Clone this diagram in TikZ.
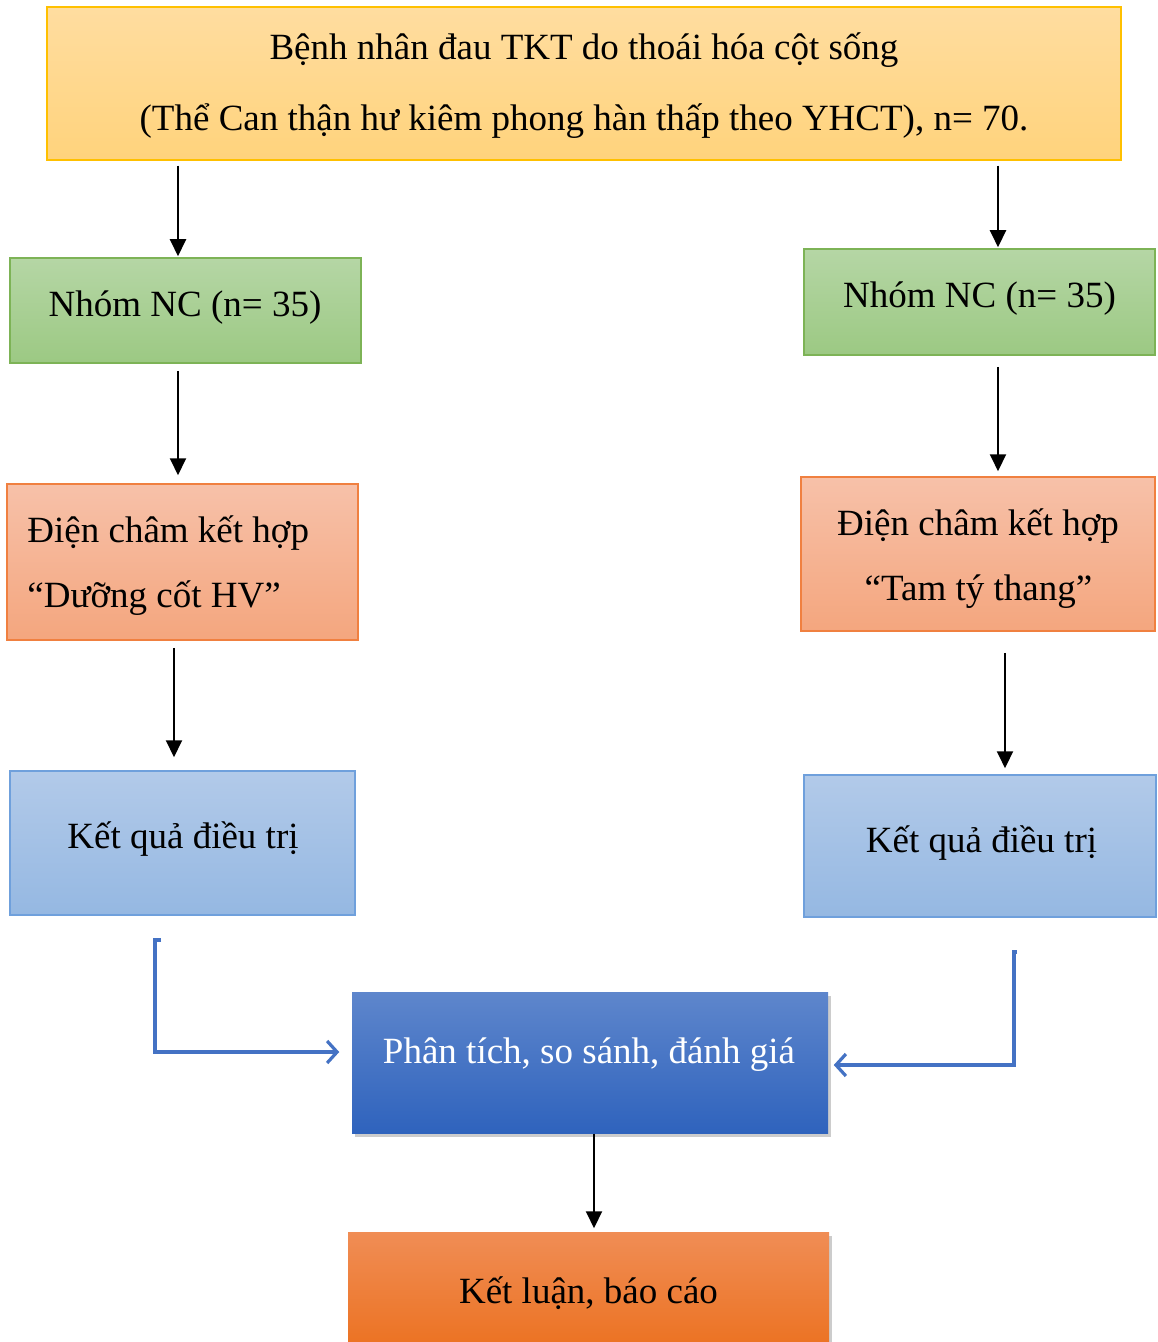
\documentclass[tikz,border=0pt]{standalone}
\usepackage{fontspec}
\setmainfont{Liberation Serif}
\usetikzlibrary{arrows.meta,shadows}
\definecolor{tbTop}{HTML}{FFDDA0}
\definecolor{tbBot}{HTML}{FFD37C}
\definecolor{tbLine}{HTML}{FFC000}
\definecolor{grTop}{HTML}{B5D6A5}
\definecolor{grBot}{HTML}{9CC983}
\definecolor{grLine}{HTML}{7DB356}
\definecolor{saTop}{HTML}{F7C1A9}
\definecolor{saBot}{HTML}{F4A67E}
\definecolor{saLine}{HTML}{F08040}
\definecolor{lbTop}{HTML}{B2CAE9}
\definecolor{lbBot}{HTML}{95B8E2}
\definecolor{lbLine}{HTML}{6FA0DC}
\definecolor{dbTop}{HTML}{5E86CC}
\definecolor{dbBot}{HTML}{2F63BD}
\definecolor{orTop}{HTML}{F08D55}
\definecolor{orBot}{HTML}{EB6E1A}
\definecolor{conn}{HTML}{4472C4}
\tikzset{
  box/.style={rectangle, inner sep=0pt, line width=0.75pt},
  topbox/.style={box, draw=tbLine, top color=tbTop, bottom color=tbBot},
  greenbox/.style={box, draw=grLine, top color=grTop, bottom color=grBot},
  salmonbox/.style={box, draw=saLine, top color=saTop, bottom color=saBot},
  lightbox/.style={box, draw=lbLine, top color=lbTop, bottom color=lbBot},
  darkbox/.style={box, top color=dbTop, bottom color=dbBot,
     drop shadow={opacity=0.4, shadow xshift=1.5pt, shadow yshift=-2pt}},
  orangebox/.style={box, top color=orTop, bottom color=orBot,
     drop shadow={opacity=0.4, shadow xshift=1.5pt, shadow yshift=-2pt}},
  txt/.style={anchor=base, inner sep=0pt, font=\fontsize{18.5}{22}\selectfont},
  arr/.style={line width=1pt, -{Triangle[length=8.5pt,width=8pt]}},
  bluearr/.style={draw=conn, line width=1.6pt, line join=miter,
     -{Straight Barb[length=5pt,width=11pt,line width=1.6pt]}}
}
\begin{document}
\begin{tikzpicture}[x=0.5pt,y=-0.5pt]
\useasboundingbox (0,0) rectangle (1157,1342);
\fill[white] (0,0) rectangle (1157,1342);
% boxes
\node[topbox, minimum width=537pt, minimum height=76.5pt] (top) at (584,83.5) {};
\node[greenbox, minimum width=175.5pt, minimum height=52.5pt] (l1) at (185.5,310.5) {};
\node[greenbox, minimum width=175.5pt, minimum height=53pt] (r1) at (979.5,302) {};
\node[salmonbox, minimum width=175.5pt, minimum height=78pt] (l2) at (182.5,562) {};
\node[salmonbox, minimum width=177pt, minimum height=77pt] (r2) at (978,554) {};
\node[lightbox, minimum width=172.5pt, minimum height=72pt] (l3) at (182.5,843) {};
\node[lightbox, minimum width=176pt, minimum height=71pt] (r3) at (980,846) {};
\node[darkbox, minimum width=238pt, minimum height=70.5pt] (mid) at (590,1062.5) {};
\node[orangebox, minimum width=240.5pt, minimum height=66.5pt] (bot) at (588.5,1298.5) {};
% texts
\node[txt] (t1) at (584,60) {Bệnh nhân đau TKT do thoái hóa cột sống};
\node[txt] (t2) at (584,131) {(Thể Can thận hư kiêm phong hàn thấp theo YHCT), n= 70.};
\node[txt] (tl1) at (185,316) {Nhóm NC (n= 35)};
\node[txt] (tr1) at (979.5,307) {Nhóm NC (n= 35)};
\node[txt, anchor=base west] (tl2a) at (27,542) {Điện châm kết hợp};
\node[txt, anchor=base west] (tl2b) at (27,607) {“Dưỡng cốt HV”};
\node[txt] (tr2a) at (978,535) {Điện châm kết hợp};
\node[txt] (tr2b) at (978.5,600) {“Tam tý thang”};
\node[txt] (tl3) at (183,848) {Kết quả điều trị};
\node[txt] (tr3) at (981.5,852) {Kết quả điều trị};
\node[txt, text=white] (tm) at (589,1063) {Phân tích, so sánh, đánh giá};
\node[txt] (tb) at (588.5,1303) {Kết luận, báo cáo};
% x positions for connectors
\coordinate (xa) at (178,0);
\coordinate (xb) at (998,0);
\coordinate (xc) at (174,0);
\coordinate (xd) at (1005,0);
\coordinate (xe) at (594,0);
% black arrows
\draw[arr, shorten <=2.5pt, shorten >=0.5pt] (top.south -| xa) -- (l1.north -| xa);
\draw[arr, shorten <=2.5pt, shorten >=0.5pt] (top.south -| xb) -- (r1.north -| xb);
\draw[arr, shorten <=3.5pt, shorten >=4pt] (l1.south -| xa) -- (l2.north -| xa);
\draw[arr, shorten <=5.5pt, shorten >=2.5pt] (r1.south -| xb) -- (r2.north -| xb);
\draw[arr, shorten <=3.5pt, shorten >=6.5pt] (l2.south -| xc) -- (l3.north -| xc);
\draw[arr, shorten <=10.5pt, shorten >=3pt] (r2.south -| xd) -- (r3.north -| xd);
\draw[arr, shorten >=1.5pt] (mid.south -| xe) -- (bot.north -| xe);
% blue connectors
\coordinate (ls) at (161,940);
\coordinate (lc) at (155,940);
\coordinate (lh) at (155,1052);
\coordinate (rs) at (1017,952);
\coordinate (rc) at (1014,952);
\coordinate (rh) at (1014,1065);
\draw[bluearr, shorten >=6pt] (ls) -- (lc) -- (lh) -- (mid.west |- lh);
\draw[bluearr, shorten >=2.5pt] (rs) -- (rc) -- (rh) -- (mid.east |- rh);
\end{tikzpicture}
\end{document}
